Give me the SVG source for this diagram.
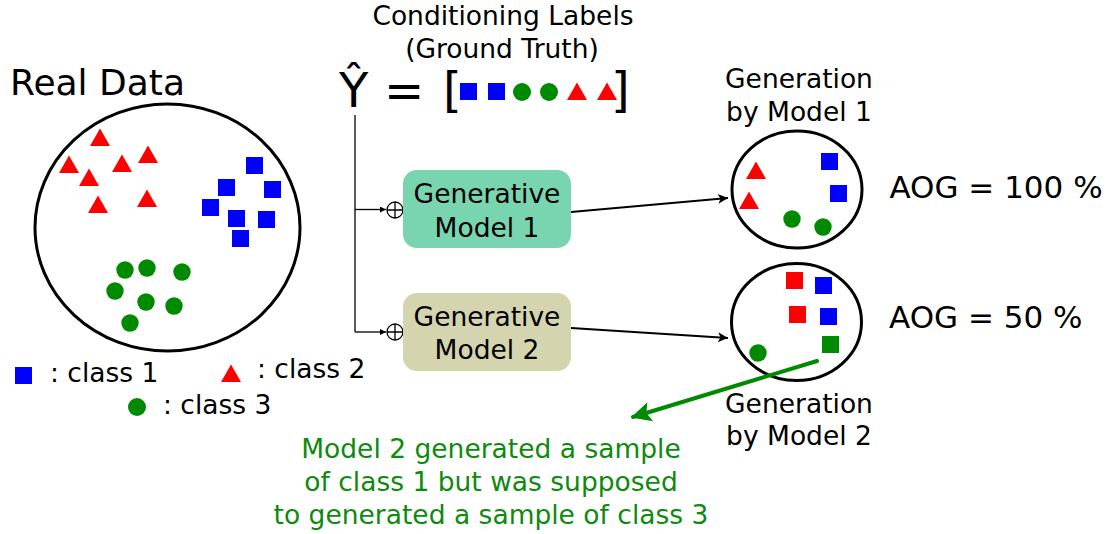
<svg xmlns="http://www.w3.org/2000/svg" width="1115" height="534" viewBox="0 0 1115 534">
<defs>
<style>
text{font-family:"DejaVu Sans","Liberation Sans",sans-serif;fill:#000}
.t26{font-size:26.5px}
.mid{text-anchor:middle}
.green{fill:#0e8a0e}
.ell{fill:#fff;stroke:#000;stroke-width:3}
.sq{fill:#0000ff}
.tri{fill:#ff0000}
.cir{fill:#008a00}
.red{fill:#ff0000}
.gsq{fill:#008a00}
.conn{stroke:#000;stroke-width:2;fill:none}
.thin{stroke:#000;stroke-width:1.3;fill:none}
</style>
<marker id="ah" viewBox="0 0 10 10" refX="10" refY="5" markerWidth="16" markerHeight="10" markerUnits="userSpaceOnUse" orient="auto"><path d="M0,0 L10,5 L0,10 L2.5,5 z" fill="#000"/></marker>
<marker id="ahs" viewBox="0 0 10 10" refX="10" refY="5" markerWidth="8" markerHeight="6" markerUnits="userSpaceOnUse" orient="auto"><path d="M0,0 L10,5 L0,10 z" fill="#000"/></marker>
<marker id="ahg" viewBox="0 0 10 10" refX="9" refY="5" markerWidth="30" markerHeight="20" markerUnits="userSpaceOnUse" orient="auto"><path d="M0,0 L10,5 L0,10 L2,5 z" fill="#008a00"/></marker>
<rect id="s" width="17" height="17"/>
<path id="tr" d="M0,0 L10,-17.5 L20,0 z"/>
</defs>

<g id="real-data">
<text x="10" y="95" style="font-size:36px">Real Data</text>
<ellipse class="ell" cx="167.5" cy="227.5" rx="132.5" ry="123.5"/>
<g class="tri">
<use href="#tr" x="90" y="146"/>
<use href="#tr" x="59" y="173"/>
<use href="#tr" x="112" y="172"/>
<use href="#tr" x="138" y="163"/>
<use href="#tr" x="79" y="186"/>
<use href="#tr" x="88" y="213"/>
<use href="#tr" x="137" y="207"/>
</g>
<g class="sq">
<use href="#s" x="246" y="157"/>
<use href="#s" x="218" y="179"/>
<use href="#s" x="264" y="181"/>
<use href="#s" x="202" y="199"/>
<use href="#s" x="228" y="210"/>
<use href="#s" x="258" y="211"/>
<use href="#s" x="232" y="230"/>
</g>
<g class="cir">
<circle cx="125" cy="270" r="8.7"/>
<circle cx="147" cy="268" r="8.7"/>
<circle cx="182" cy="272" r="8.7"/>
<circle cx="115" cy="291" r="8.7"/>
<circle cx="146" cy="302" r="8.7"/>
<circle cx="174" cy="306" r="8.7"/>
<circle cx="130" cy="323" r="8.7"/>
</g>
</g>

<g id="legend">
<use href="#s" class="sq" x="15" y="367"/>
<text class="t26" x="50" y="382">: class 1</text>
<use href="#tr" class="tri" x="221" y="382"/>
<text class="t26" x="257" y="378">: class 2</text>
<circle class="cir" cx="137" cy="407" r="9"/>
<text class="t26" x="163" y="414">: class 3</text>
</g>

<g id="conditioning-labels">
<text class="t26 mid" x="503" y="25">Conditioning Labels</text>
<text class="t26 mid" x="502" y="58">(Ground Truth)</text>
<text x="339" y="107" style="font-size:48px">Ŷ</text>
<text x="384" y="107" style="font-size:48px">=</text>
<text x="443" y="107" style="font-size:48px">[</text>
<text x="611" y="107" style="font-size:48px">]</text>
<use href="#s" class="sq" x="460" y="83"/>
<use href="#s" class="sq" x="488" y="83"/>
<circle class="cir" cx="522" cy="92" r="9"/>
<circle class="cir" cx="549" cy="92" r="9"/>
<use href="#tr" class="tri" x="567" y="100"/>
<use href="#tr" class="tri" x="597" y="100"/>
</g>

<g id="oplus1">
<circle class="thin" cx="395" cy="210" r="8"/>
<path class="thin" d="M387,210 H403 M395,202 V218"/>
</g>
<g id="oplus2">
<circle class="thin" cx="395" cy="332" r="8"/>
<path class="thin" d="M387,332 H403 M395,324 V340"/>
</g>

<g id="gen-model-1">
<rect x="403" y="170" width="168" height="78" rx="14" fill="#79d5b0"/>
<text class="t26 mid" x="487" y="203">Generative</text>
<text class="t26 mid" x="487" y="237">Model 1</text>
</g>
<g id="gen-model-2">
<rect x="403" y="293" width="168" height="78" rx="14" fill="#d4d4ae"/>
<text class="t26 mid" x="487" y="326">Generative</text>
<text class="t26 mid" x="487" y="359">Model 2</text>
</g>

<g id="generation-1">
<text class="t26 mid" x="799" y="88">Generation</text>
<text class="t26 mid" x="799" y="121">by Model 1</text>
<ellipse class="ell" cx="797" cy="189.5" rx="65" ry="58.5"/>
<use href="#tr" class="tri" x="746" y="179"/>
<use href="#tr" class="tri" x="739" y="209"/>
<use href="#s" class="sq" x="821" y="153"/>
<use href="#s" class="sq" x="830" y="185"/>
<circle class="cir" cx="792" cy="219" r="8.7"/>
<circle class="cir" cx="823" cy="227" r="8.7"/>
</g>
<text class="mid" x="996" y="198" style="font-size:31px" id="aog1">AOG = 100 %</text>

<g id="generation-2">
<ellipse class="ell" cx="796.5" cy="322" rx="65" ry="58.5"/>
<use href="#s" class="red" x="786" y="272"/>
<use href="#s" class="sq" x="815" y="277"/>
<use href="#s" class="red" x="789" y="306"/>
<use href="#s" class="sq" x="820" y="308"/>
<use href="#s" class="gsq" x="822" y="336"/>
<circle class="cir" cx="758" cy="353" r="8.7"/>
<text class="t26 mid" x="799" y="413">Generation</text>
<text class="t26 mid" x="799" y="445">by Model 2</text>
</g>
<text x="889" y="328" style="font-size:31px" id="aog2">AOG = 50 %</text>

<g id="connectors">
<path class="thin" d="M355,115 V332"/>
<path class="thin" d="M355,209.5 H386" marker-end="url(#ahs)"/>
<path class="thin" d="M355,332 H386" marker-end="url(#ahs)"/>
<path class="conn" d="M571,212 L728,198" marker-end="url(#ah)"/>
<path class="conn" d="M571,328 L728,338" marker-end="url(#ah)"/>
<path d="M817,361 L633,417" stroke="#008a00" stroke-width="4" stroke-linecap="round" fill="none" marker-end="url(#ahg)"/>
</g>

<g id="annotation">
<text class="t26 mid green" x="491" y="458">Model 2 generated a sample</text>
<text class="t26 mid green" x="491" y="491">of class 1 but was supposed</text>
<text class="t26 mid green" x="491" y="524">to generated a sample of class 3</text>
</g>
</svg>
